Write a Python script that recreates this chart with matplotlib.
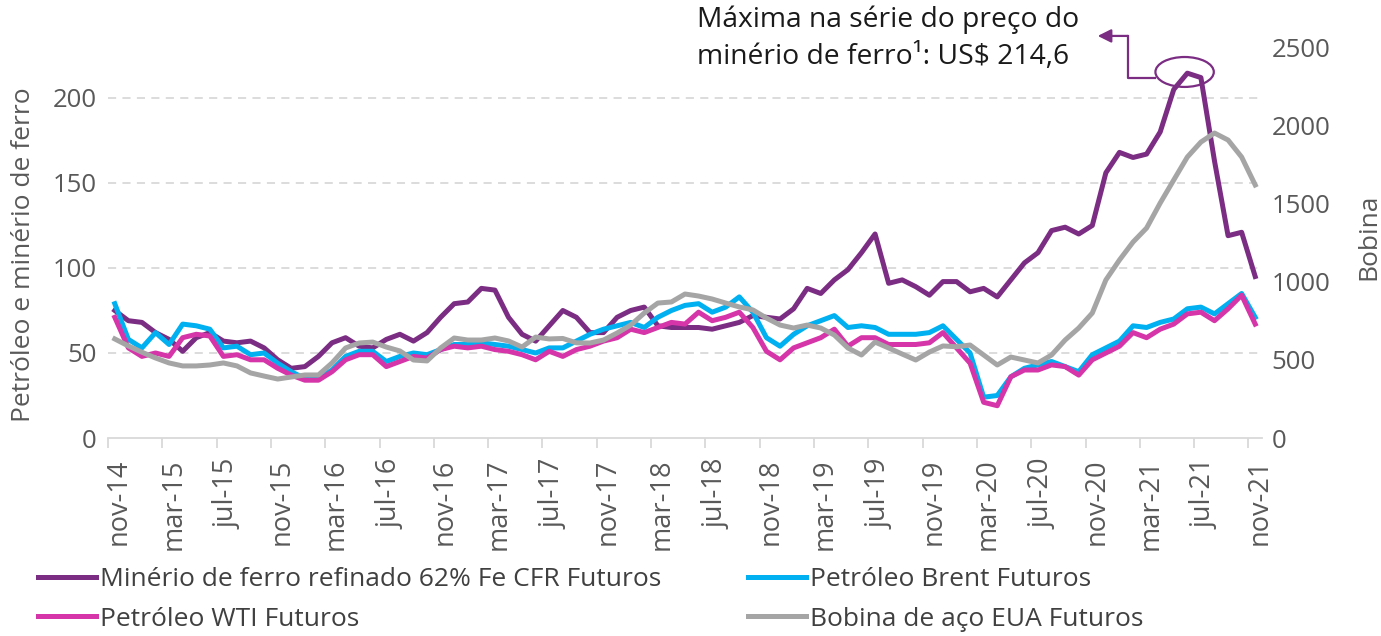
import matplotlib

matplotlib.use("Agg")
import matplotlib.pyplot as plt
import numpy as np
from matplotlib.patches import Ellipse

plt.rcParams["font.family"] = ["Open Sans", "DejaVu Sans"]

# monthly series, nov-14 .. nov-21
tick_labels = [
    "nov-14", "mar-15", "jul-15", "nov-15", "mar-16", "jul-16", "nov-16",
    "mar-17", "jul-17", "nov-17", "mar-18", "jul-18", "nov-18", "mar-19",
    "jul-19", "nov-19", "mar-20", "jul-20", "nov-20", "mar-21", "jul-21",
    "nov-21",
]
iron_ore = [
    75, 69, 68, 62, 58, 51, 59, 62, 57, 56,
    57, 53, 46, 41, 42, 48, 56, 59, 54, 53,
    58, 61, 57, 62, 71, 79, 80, 88, 87, 71,
    61, 57, 66, 75, 71, 62, 62, 71, 75, 77,
    66, 65, 65, 65, 64, 66, 68, 72, 71, 70,
    76, 88, 85, 93, 99, 109, 120, 91, 93, 89,
    84, 92, 92, 86, 88, 83, 93, 103, 109, 122,
    124, 120, 125, 156, 168, 165, 167, 180, 205, 214.6,
    212, 163, 119, 121, 95,
]
brent = [
    79, 58, 53, 62, 55, 67, 66, 64, 53, 54,
    49, 50, 44, 39, 35, 35, 40, 48, 51, 51,
    45, 48, 50, 49, 52, 55, 55, 56, 55, 54,
    52, 50, 53, 53, 57, 61, 64, 66, 68, 65,
    71, 75, 78, 79, 74, 77, 83, 74, 59, 54,
    61, 66, 69, 72, 65, 66, 65, 61, 61, 61,
    62, 66, 58, 50, 24, 25, 36, 41, 43, 45,
    42, 39, 49, 53, 57, 66, 65, 68, 70, 76,
    77, 73, 79, 85, 71,
]
wti = [
    71, 53, 48, 50, 48, 59, 61, 60, 48, 49,
    46, 46, 41, 37, 34, 34, 39, 46, 49, 49,
    42, 45, 48, 47, 52, 54, 53, 54, 52, 51,
    49, 46, 51, 48, 52, 54, 57, 59, 64, 62,
    65, 68, 67, 74, 69, 71, 74, 65, 51, 46,
    53, 56, 59, 64, 54, 59, 59, 55, 55, 55,
    56, 62, 53, 44, 21, 19, 36, 40, 40, 43,
    42, 37, 46, 50, 54, 62, 59, 64, 67, 73,
    74, 69, 76, 84, 67,
]
steel_coil = [
    635, 590, 550, 513, 481, 462, 462, 468, 481, 462,
    417, 397, 378, 391, 404, 404, 481, 577, 609, 615,
    583, 558, 500, 494, 577, 641, 628, 628, 641, 622,
    583, 647, 635, 638, 610, 609, 628, 673, 724, 801,
    865, 872, 923, 910, 891, 865, 840, 821, 769, 724,
    705, 724, 705, 660, 577, 532, 615, 577, 538, 500,
    551, 590, 585, 596, 532, 468, 519, 500, 481, 532,
    628, 705, 801, 1013, 1141, 1256, 1346, 1506, 1654, 1801,
    1897, 1955, 1910, 1801, 1622,
]

PURPLE = "#7B2C83"
CYAN = "#00B0F0"
MAGENTA = "#D535A8"
GREY = "#A5A5A5"
TEXT = "#595959"
LW = 3.6

x = np.arange(len(iron_ore)) + 0.5

fig = plt.figure(figsize=(13.81, 6.36), dpi=100)
ax = fig.add_axes([108 / 1381, 198 / 636, 1154 / 1381, 390 / 636])
ax2 = ax.twinx()

(l_iron,) = ax.plot(x, iron_ore, color=PURPLE, lw=LW, solid_joinstyle="round")
(l_brent,) = ax.plot(x, brent, color=CYAN, lw=LW, solid_joinstyle="round")
(l_wti,) = ax.plot(x, wti, color=MAGENTA, lw=LW, solid_joinstyle="round")
(l_coil,) = ax2.plot(x, steel_coil, color=GREY, lw=LW, solid_joinstyle="round")

ax.set_xlim(0, len(iron_ore))
ax.set_ylim(0, 229.4)
ax2.set_ylim(0, 2500)

ax.set_yticks([0, 50, 100, 150, 200])
ax2.set_yticks([0, 500, 1000, 1500, 2000, 2500])
for y in [50, 100, 150, 200]:
    ax.axhline(y, color="#D9D9D9", lw=1.3, ls=(0, (4.5, 3.5)), zorder=0)

major = np.arange(0, len(iron_ore), 4)
ax.set_xticks(major, [""] * len(major))
ax.set_xticks(major + 0.8, tick_labels, minor=True)
ax.tick_params(axis="x", which="major", length=7, width=1.3, color="#D9D9D9")
ax.tick_params(axis="x", which="minor", length=0, pad=15, labelsize=19.5,
               labelcolor=TEXT, labelrotation=90)
ax.tick_params(axis="y", length=0, pad=8, labelsize=18.5, labelcolor=TEXT)
ax2.tick_params(axis="y", length=0, pad=7, labelsize=18.5, labelcolor=TEXT)

for side in ["left", "right", "top"]:
    ax.spines[side].set_visible(False)
    ax2.spines[side].set_visible(False)
ax2.spines["bottom"].set_visible(False)
ax.spines["bottom"].set_color("#D9D9D9")
ax.spines["bottom"].set_linewidth(1.3)

ax.set_ylabel("Petróleo e minério de ferro", fontsize=19, color=TEXT)
ax.yaxis.set_label_coords(-0.062, 0.47)
ax2.set_ylabel("Bobina", fontsize=19, color=TEXT)
ax2.yaxis.set_label_coords(1.082, 0.515)

# callout on the iron ore peak
peak = int(np.argmax(iron_ore))
px, py = x[peak] - 0.2, iron_ore[peak] + 0.7
ax2.add_patch(Ellipse((px, py * 2500 / 229.4), 4.3, 17.6 * 2500 / 229.4,
                      fill=False, ec=PURPLE, lw=1.6, clip_on=False))
ax.plot([px - 2.15, px - 4.2, px - 4.2], [py - 3.5, py - 3.5, py + 21.2],
        color=PURPLE, lw=1.6, clip_on=False)
ax.annotate("", xy=(px - 6.4, py + 21.2), xytext=(px - 4.2, py + 21.2),
            arrowprops=dict(arrowstyle="-|>", color=PURPLE, lw=1.6,
                            mutation_scale=20, shrinkA=0, shrinkB=0),
            annotation_clip=False)
fig.text(697 / 1381, 1 - 5 / 636,
         "Máxima na série do preço do\nminério de ferro¹: US$ 214,6",
         ha="left", va="top", fontsize=20.3, color="#1A1A1A", linespacing=1.45)

fig.legend(
    [l_iron, l_wti, l_brent, l_coil],
    ["Minério de ferro refinado 62% Fe CFR Futuros", "Petróleo WTI Futuros",
     "Petróleo Brent Futuros", "Bobina de aço EUA Futuros"],
    ncols=2,
    loc="upper left",
    bbox_to_anchor=(38 / 1381, 1 - 567 / 636),
    frameon=False,
    fontsize=19,
    labelcolor="#404040",
    handlelength=2.2,
    handletextpad=0.15,
    columnspacing=3.3,
    labelspacing=0.55,
    borderpad=0,
    borderaxespad=0,
)

fig.savefig("out.png", dpi=100)
